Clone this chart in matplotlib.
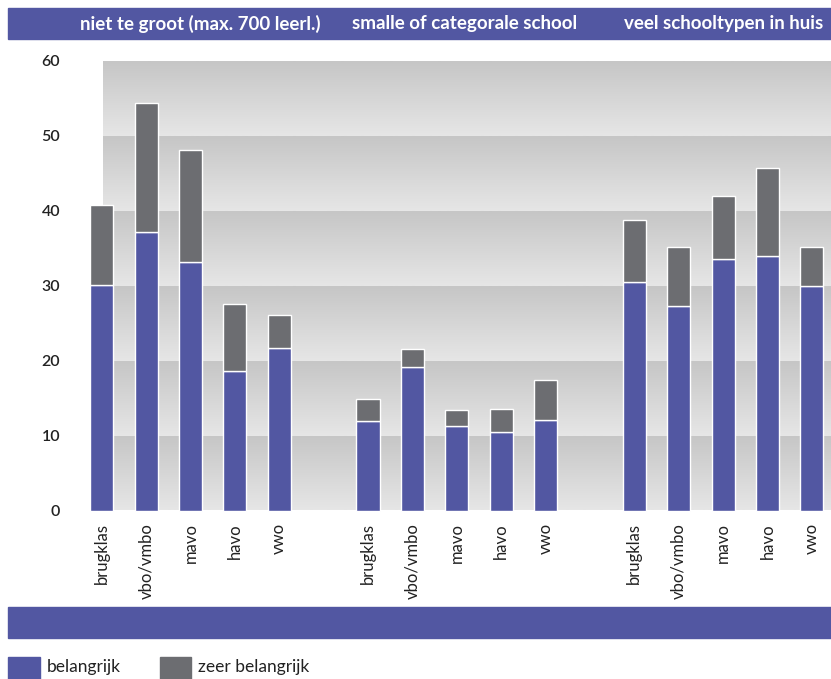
import numpy as np
import matplotlib
matplotlib.use("Agg")
import matplotlib.pyplot as plt
from matplotlib.patches import Rectangle

plt.rcParams['font.family'] = ['Lato', 'DejaVu Sans']

groups = ["niet te groot (max. 700 leerl.)", "smalle of categorale school", "veel schooltypen in huis"]
school_types = ["brugklas", "vbo/vmbo", "mavo", "havo", "vwo"]

# percentages per group, in order of school_types
belangrijk = [
    [30.1, 37.1, 33.2, 18.6, 21.7],
    [12.0, 19.1, 11.3, 10.5, 12.1],
    [30.5, 27.3, 33.6, 34.0, 30.0],
]
totaal = [
    [40.8, 54.4, 48.1, 27.6, 26.1],
    [14.9, 21.5, 13.4, 13.6, 17.4],
    [38.8, 35.1, 42.0, 45.7, 35.1],
]
zeer_belangrijk = [[t - b for t, b in zip(tr, br)] for tr, br in zip(totaal, belangrijk)]

yticks = [0, 10, 20, 30, 40, 50, 60]

BLUE = '#5257a2'
GREY = '#6c6d71'

W, H = 831, 679
fig = plt.figure(figsize=(W / 100, H / 100), dpi=100)


def fbox(x0, y0, x1, y1):
    """pixel box (top-left origin) -> figure fraction rect"""
    return [x0 / W, 1 - y1 / H, (x1 - x0) / W, (y1 - y0) / H]


ax = fig.add_axes(fbox(101.7, 60.7, 831, 510.5))

# x positions: five bars per group, one empty slot between groups
pos = []
for g in range(len(groups)):
    pos.append([g * 6 + i for i in range(len(school_types))])

x0_data, x1_data = 0.034, 16.43

# banded gradient background, one gradient per 10 units
band_cmap = matplotlib.colors.LinearSegmentedColormap.from_list('band', ['#e6e6e6', '#c6c6c6'])
grad = np.linspace(0, 1, 64).reshape(-1, 1)
for lo in range(0, 60, 10):
    ax.imshow(grad, extent=[x0_data, x1_data, lo, lo + 10], origin='lower',
              cmap=band_cmap, aspect='auto', zorder=0, interpolation='bilinear')

for g in range(len(groups)):
    ax.bar(pos[g], belangrijk[g], width=0.52, color=BLUE, edgecolor='white',
           linewidth=1.0, zorder=3, clip_on=False)
    ax.bar(pos[g], zeer_belangrijk[g], bottom=belangrijk[g], width=0.52, color=GREY,
           edgecolor='white', linewidth=1.0, zorder=3, clip_on=False)

ax.set_xlim(x0_data, x1_data)
ax.set_ylim(0, 60)
for s in ax.spines.values():
    s.set_visible(False)

all_pos = [p for grp in pos for p in grp]
ax.set_xticks(all_pos)
ax.set_xticklabels(school_types * len(groups), rotation=90, fontsize=12, color='#222222')
ax.set_yticks(yticks)
ax.set_yticklabels([str(v) for v in yticks], fontsize=11.5, fontweight='semibold', color='#222222')
ax.tick_params(axis='both', length=0)
ax.tick_params(axis='y', pad=30)
ax.tick_params(axis='x', pad=9)

# header band with group titles
hb = fbox(8, 8, 831, 38.5)
fig.patches.append(Rectangle(hb[:2], hb[2], hb[3], transform=fig.transFigure,
                             color=BLUE, zorder=0))
for title, cx in zip(groups, [200, 465, 724]):
    fig.text(cx / W, 1 - 23.5 / H, title, ha='center', va='center', color='white',
             fontsize=13.5, fontweight='bold')

# bottom band
bb = fbox(8, 606.7, 831, 637.5)
fig.patches.append(Rectangle(bb[:2], bb[2], bb[3], transform=fig.transFigure,
                             color=BLUE, zorder=0))

# legend
for (x0, x1, col, label) in [(8, 40, BLUE, "belangrijk"), (160, 191, GREY, "zeer belangrijk")]:
    lb = fbox(x0, 656.7, x1, 679)
    fig.patches.append(Rectangle(lb[:2], lb[2], lb[3], transform=fig.transFigure,
                                 color=col, zorder=0))
    fig.text((x1 + 7) / W, 1 - 667 / H, label, ha='left', va='center',
             fontsize=12.5, color='#222222')

fig.savefig('out.png', dpi=100)
